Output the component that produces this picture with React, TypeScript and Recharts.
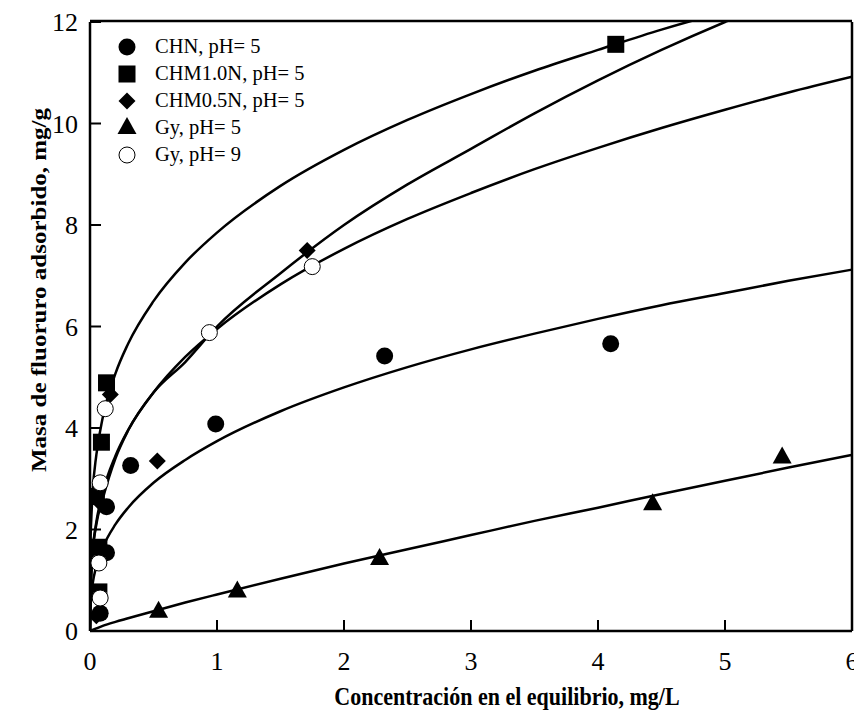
import React from "react";
import { ComposedChart, Line, Scatter, XAxis, YAxis } from "recharts";

// ---- measured points ----
const chnX = [0.08, 0.13, 0.13, 0.32, 0.99, 2.32, 4.1];
const chnY = [0.35, 1.54, 2.45, 3.26, 4.08, 5.42, 5.66];

const chm10X = [0.07, 0.07, 0.05, 0.09, 0.13, 4.14];
const chm10Y = [0.77, 1.65, 2.65, 3.72, 4.89, 11.56];

const chm05X = [0.05, 0.06, 0.07, 0.16, 0.53, 1.71];
const chm05Y = [0.3, 1.6, 2.55, 4.66, 3.35, 7.5];

const gy5X = [0.54, 1.16, 2.28, 4.43, 5.45];
const gy5Y = [0.38, 0.78, 1.42, 2.5, 3.42];

const gy9X = [0.08, 0.07, 0.08, 0.12, 0.94, 1.75];
const gy9Y = [0.65, 1.34, 2.92, 4.38, 5.88, 7.18];

// ---- fitted curves ----
const fitX = [0, 0.005, 0.01, 0.02, 0.05, 0.1, 0.2, 0.3, 0.5, 0.75, 1, 1.5, 2, 2.5, 3, 3.5, 4, 4.5, 5, 5.5, 6];
const fitChm10 = [0, 1.86, 2.2, 2.71, 3.47, 4.2, 5.07, 5.66, 6.5, 7.26, 7.85, 8.77, 9.48, 10.07, 10.58, 11.04, 11.45, 11.85, 12.2, 12.5, 12.8];
const fitChm05 = [0, 0.6, 1.0, 1.5, 2.1, 2.6, 3.4, 3.95, 4.7, 5.3, 6.0, 7.05, 8.0, 8.8, 9.5, 10.2, 10.85, 11.45, 12.0, 12.5, 13.0];
const fitGy9 = [0, 0.99, 1.25, 1.58, 2.15, 2.73, 3.45, 3.96, 4.7, 5.4, 5.95, 6.83, 7.53, 8.12, 8.63, 9.1, 9.52, 9.91, 10.27, 10.61, 10.92];
const fitChn = [0, 0.56, 0.72, 0.92, 1.28, 1.64, 2.1, 2.43, 2.92, 3.37, 3.74, 4.33, 4.8, 5.2, 5.55, 5.86, 6.15, 6.42, 6.66, 6.9, 7.12];
const fitGy5 = [0, 0.01, 0.01, 0.02, 0.05, 0.1, 0.18, 0.25, 0.39, 0.56, 0.72, 1.03, 1.33, 1.61, 1.89, 2.17, 2.43, 2.7, 2.96, 3.22, 3.47];

// ---- ticks ----
const xMajor = [0, 1, 2, 3, 4, 5, 6];
const xMinor = [0.2, 0.4, 0.6, 0.8, 1.2, 1.4, 1.6, 1.8, 2.2, 2.4, 2.6, 2.8, 3.2, 3.4, 3.6, 3.8, 4.2, 4.4, 4.6, 4.8, 5.2, 5.4, 5.6, 5.8];
const yMajor = [0, 2, 4, 6, 8, 10, 12];
const yMinor = [0.4, 0.8, 1.2, 1.6, 2.4, 2.8, 3.2, 3.6, 4.4, 4.8, 5.2, 5.6, 6.4, 6.8, 7.2, 7.6, 8.4, 8.8, 9.2, 9.6, 10.4, 10.8, 11.2, 11.6];

const legendLabels = ["CHN, pH= 5", "CHM1.0N, pH= 5", "CHM0.5N, pH= 5", "Gy, pH= 5", "Gy, pH= 9"];
const xTitle = "Concentración en el equilibrio, mg/L";
const yTitle = "Masa de fluoruro adsorbido, mg/g";

const FONT = '"Liberation Serif", "Times New Roman", serif';

const zip = (xs: number[], ys: number[]) => xs.map((x, i) => ({ x, y: ys[i] }));

const MAJ = 11;
const MIN = 6;
const tickText = { fill: "#000", fontSize: 26, fontFamily: FONT };
const tLine = { stroke: "#000", strokeWidth: 2 };
const aLine = { stroke: "#000", strokeWidth: 2.5 };

const Circle = (p: any) => <circle cx={p.cx} cy={p.cy} r={8.5} fill="#000" />;
const OpenCircle = (p: any) => <circle cx={p.cx} cy={p.cy} r={8} fill="#fff" stroke="#000" strokeWidth={1} />;
const Square = (p: any) => <rect x={p.cx - 8.5} y={p.cy - 8.5} width={17} height={17} fill="#000" />;
const Diamond = (p: any) => (
  <polygon points={`${p.cx},${p.cy - 8.5} ${p.cx + 8.5},${p.cy} ${p.cx},${p.cy + 8.5} ${p.cx - 8.5},${p.cy}`} fill="#000" />
);
const Triangle = (p: any) => (
  <polygon points={`${p.cx},${p.cy - 11} ${p.cx + 9.5},${p.cy + 6} ${p.cx - 9.5},${p.cy + 6}`} fill="#000" />
);

const shapes = [Circle, Square, Diamond, Triangle, OpenCircle];

const LegendBox = () => (
  <div style={{ position: "absolute", left: 108, top: 25, fontFamily: FONT, fontSize: 20.5, color: "#000" }}>
    {legendLabels.map((lab, i) => {
      const S = shapes[i];
      return (
        <div key={lab} style={{ display: "flex", alignItems: "center", height: 27 }}>
          <svg width={22} height={24} style={{ overflow: "visible" }}>
            <S cx={11} cy={12} />
          </svg>
          <span style={{ marginLeft: 17, lineHeight: "27px", whiteSpace: "nowrap" }}>{lab}</span>
        </div>
      );
    })}
  </div>
);

export default function App() {
  const lineData = [fitChm10, fitChm05, fitGy9, fitChn, fitGy5].map((ys) => zip(fitX, ys));
  const scat = [zip(chnX, chnY), zip(chm10X, chm10Y), zip(chm05X, chm05Y), zip(gy5X, gy5Y), zip(gy9X, gy9Y)];
  const titleStyle: React.CSSProperties = {
    position: "absolute",
    width: 600,
    height: 30,
    lineHeight: "30px",
    textAlign: "center",
    fontFamily: FONT,
    fontWeight: "bold",
    fontSize: 25,
    whiteSpace: "nowrap",
    color: "#000",
  };
  const common = { type: "number" as const, interval: 0 as const, allowDataOverflow: true };
  return (
    <div style={{ position: "relative", width: 854, height: 708, background: "#fff", fontFamily: FONT }}>
      <style>{`.recharts-surface{overflow:visible}.recharts-wrapper{overflow:visible}`}</style>
      <ComposedChart width={854} height={708} margin={{ top: 12, right: 8, bottom: 83, left: 80 }}>
        {/* bottom: major with labels, minor */}
        <XAxis
          {...common}
          dataKey="x"
          domain={[0, 6]}
          ticks={xMajor}
          height={1}
          tickSize={-MAJ}
          tickMargin={32}
          tickLine={tLine}
          tick={tickText}
          axisLine={aLine}
        />
        <XAxis
          {...common}
          xAxisId="bminor"
          domain={[0, 6]}
          ticks={xMinor}
          height={1}
          tickSize={-MIN}
          tickLine={tLine}
          tick={false}
          axisLine={false}
        />
        {/* top */}
        <XAxis
          {...common}
          xAxisId="top"
          orientation="top"
          domain={[0, 6]}
          ticks={xMajor}
          height={1}
          tickSize={-MAJ}
          tickLine={tLine}
          tick={false}
          axisLine={aLine}
        />
        <XAxis
          {...common}
          xAxisId="tminor"
          orientation="top"
          domain={[0, 6]}
          ticks={xMinor}
          height={1}
          tickSize={-MIN}
          tickLine={tLine}
          tick={false}
          axisLine={false}
        />
        {/* left */}
        <YAxis
          {...common}
          dataKey="y"
          domain={[0, 12]}
          ticks={yMajor}
          width={1}
          tickSize={-MAJ}
          tickMargin={23}
          tickLine={tLine}
          tick={tickText}
          axisLine={aLine}
        />
        <YAxis
          {...common}
          yAxisId="lminor"
          domain={[0, 12]}
          ticks={yMinor}
          width={1}
          tickSize={-MIN}
          tickLine={tLine}
          tick={false}
          axisLine={false}
        />
        {/* right */}
        <YAxis
          {...common}
          yAxisId="right"
          orientation="right"
          domain={[0, 12]}
          ticks={yMajor}
          width={1}
          tickSize={-MAJ}
          tickLine={tLine}
          tick={false}
          axisLine={aLine}
        />
        <YAxis
          {...common}
          yAxisId="rminor"
          orientation="right"
          domain={[0, 12]}
          ticks={yMinor}
          width={1}
          tickSize={-MIN}
          tickLine={tLine}
          tick={false}
          axisLine={false}
        />
        {lineData.map((d, i) => (
          <Line
            key={"l" + i}
            data={d}
            dataKey="y"
            type="monotone"
            stroke="#000"
            strokeWidth={2.5}
            dot={false}
            activeDot={false}
            isAnimationActive={false}
            legendType="none"
          />
        ))}
        {scat.map((d, i) => (
          <Scatter
            key={"s" + i}
            name={legendLabels[i]}
            data={d}
            dataKey="y"
            shape={shapes[i]}
            isAnimationActive={false}
          />
        ))}
      </ComposedChart>
      <LegendBox />
      <div style={{ ...titleStyle, left: 499 - 300, top: 674, transform: "scaleX(0.88)" }}>{xTitle}</div>
      <div style={{ ...titleStyle, left: 31 - 300, top: 282 - 15, transform: "rotate(-90deg) scaleY(0.88)" }}>{yTitle}</div>
    </div>
  );
}
